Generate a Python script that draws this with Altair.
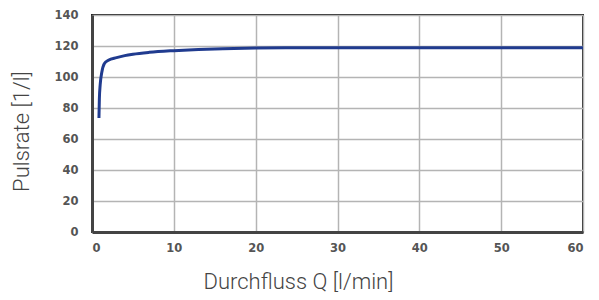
import altair as alt
import pandas as pd

flow = [0.85, 0.9, 1.0, 1.2, 1.5, 2.0, 3.0, 4.0, 5.0, 7.0, 10.0, 13.0, 16.0, 20.0, 25.0, 30.0, 40.0, 50.0, 60.0]
pulse = [73.5, 86.0, 95.0, 103.0, 108.5, 110.8, 112.5, 113.8, 114.7, 115.9, 117.0, 117.8, 118.3, 118.7, 118.9, 118.9, 118.9, 118.9, 118.9]

df = pd.DataFrame({"Q": flow, "P": pulse})

chart = alt.Chart(df).mark_line(color="#203b8f", strokeWidth=3, interpolate="monotone").encode(
    x=alt.X("Q:Q", scale=alt.Scale(domain=[0, 60], nice=False),
            axis=alt.Axis(title="Durchfluss Q [l/min]", values=[0, 10, 20, 30, 40, 50, 60],
                          titleX=206, titleY=56, titleBaseline="alphabetic",
                          labelPadding=10, labelBaseline="top")),
    y=alt.Y("P:Q", scale=alt.Scale(domain=[0, 140], nice=False),
            axis=alt.Axis(title="Pulsrate [1/l]", values=[0, 20, 40, 60, 80, 100, 120, 140],
                          titleX=-64, titleY=116, titleBaseline="alphabetic",
                          labelPadding=14)),
).properties(
    width=491, height=217,
    autosize=alt.AutoSizeParams(type="none"),
    padding={"left": 84, "top": 7, "right": 8, "bottom": 60},
).configure_view(
    stroke="#222222", strokeWidth=2
).configure_axis(
    domainColor="#444444", domainWidth=3,
    gridColor="#b4b4b4", gridWidth=1.5,
    ticks=False,
    labelFont="DejaVu Sans", labelFontSize=11.5, labelFontWeight="bold", labelColor="#555555",
    titleFont="Roboto", titleFontSize=22, titleFontWeight=300, titleColor="#444444",
)

chart.save("out.html", embed_options={"renderer": "svg", "actions": False})
